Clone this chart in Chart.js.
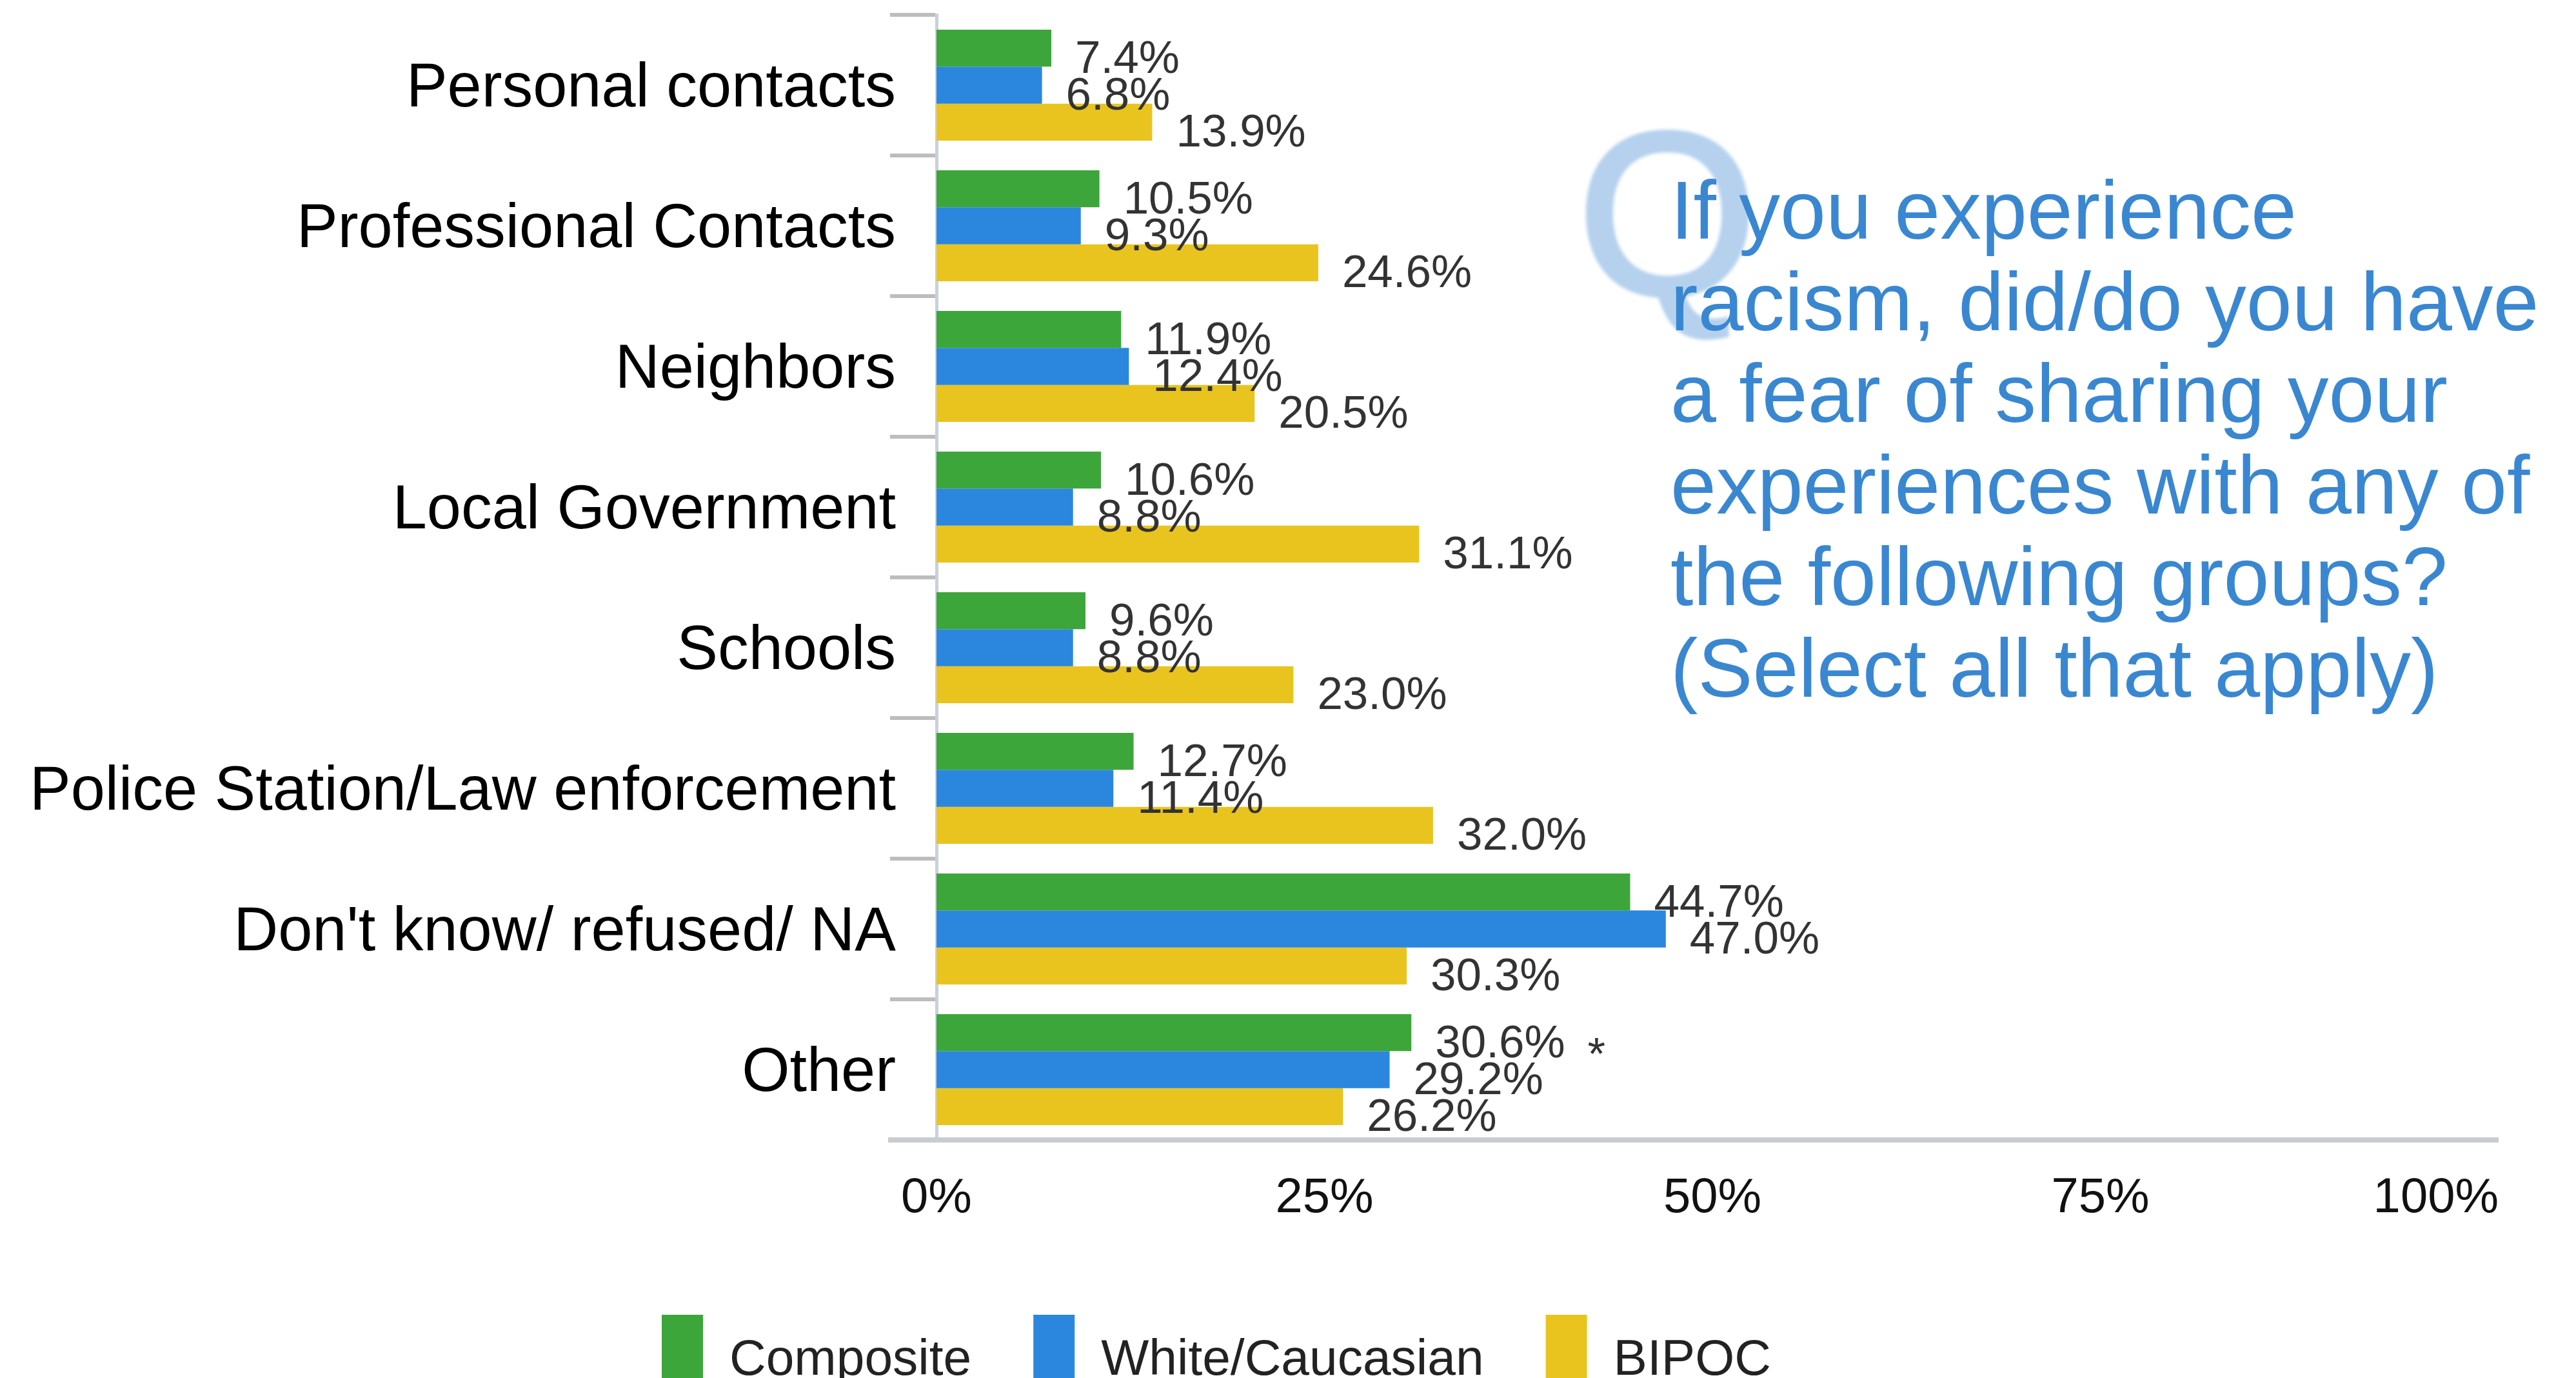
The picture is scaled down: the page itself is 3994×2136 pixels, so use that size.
<!DOCTYPE html>
<html>
<head>
<meta charset="utf-8">
<title>Fear of sharing experiences of racism</title>
<script src="https://cdn.jsdelivr.net/npm/chart.js@4.4.1/dist/chart.umd.min.js"></script>
<style>
  html, body { margin: 0; padding: 0; background: #ffffff; }
  #wrap { position: relative; width: 3994px; height: 2136px; overflow: hidden; background: #ffffff; }
  #chart { position: absolute; left: 0; top: 0; }
  #qmark {
    position: absolute; left: 2446px; top: 152px;
    font: 358px/1 "Liberation Sans", Arial, sans-serif;
    color: #b5d1ee; -webkit-text-stroke: 8px #b5d1ee;
    filter: blur(2.5px);
  }
  #question {
    position: absolute; left: 2590px; top: 255px;
    font: 127.5px/142px "Liberation Sans", Arial, sans-serif;
    color: #3a87d1; white-space: nowrap;
  }
</style>
</head>
<body>
<div id="wrap">
  <canvas id="chart" width="3994" height="2136"></canvas>
  <div id="qmark">Q</div>
  <div id="question">If you experience<br>racism, did/do you have<br>a fear of sharing your<br>experiences with any of<br>the following groups?<br>(Select all that apply)</div>
</div>
<script>
// Survey groups (y axis)
const categories = [
  'Personal contacts',
  'Professional Contacts',
  'Neighbors',
  'Local Government',
  'Schools',
  'Police Station/Law enforcement',
  "Don't know/ refused/ NA",
  'Other'
];

// Series names and percentages
const seriesNames = ['Composite', 'White/Caucasian', 'BIPOC'];
const composite      = [7.4, 10.5, 11.9, 10.6,  9.6, 12.7, 44.7, 30.6];
const whiteCaucasian = [6.8,  9.3, 12.4,  8.8,  8.8, 11.4, 47.0, 29.2];
const bipoc          = [13.9, 24.6, 20.5, 31.1, 23.0, 32.0, 30.3, 26.2];

// Footnote markers printed after a value
const compositeNotes = ['', '', '', '', '', '', '', '*'];

// Percent axis ticks
const xTickValues = [0, 25, 50, 75, 100];

const FONT = '"Liberation Sans", Arial, sans-serif';
const COLORS = ['#3ca63a', '#2b87de', '#eac41e'];

// Value labels to the right of each bar
const valueLabels = {
  id: 'valueLabels',
  afterDatasetsDraw(chart) {
    const ctx = chart.ctx;
    ctx.save();
    ctx.font = '71px ' + FONT;
    ctx.fillStyle = '#333333';
    ctx.textAlign = 'left';
    ctx.textBaseline = 'alphabetic';
    chart.data.datasets.forEach((ds, i) => {
      const meta = chart.getDatasetMeta(i);
      meta.data.forEach((bar, j) => {
        const txt = ds.data[j].toFixed(1) + '%';
        const x = bar.x + 37;
        const y = bar.y + 38;
        ctx.fillText(txt, x, y);
        const note = ds.notes ? ds.notes[j] : '';
        if (note) {
          const w = ctx.measureText(txt).width;
          ctx.fillText(note, x + w + 35, y + 19);
        }
      });
    });
    ctx.restore();
  }
};

// Base line, percent tick labels and legend
const axisExtras = {
  id: 'axisExtras',
  afterDraw(chart) {
    const { ctx, chartArea } = chart;
    const xs = chart.scales.x;
    const axisStart = chartArea.left - 75;
    const axisEnd = chartArea.right + 16;
    ctx.save();

    ctx.strokeStyle = '#c8ccd2';
    ctx.lineWidth = 8;
    ctx.beginPath();
    ctx.moveTo(axisStart, chartArea.bottom);
    ctx.lineTo(axisEnd, chartArea.bottom);
    ctx.stroke();

    ctx.font = '76px ' + FONT;
    ctx.fillStyle = '#111111';
    ctx.textBaseline = 'alphabetic';
    const tickY = chartArea.bottom + 112;
    xTickValues.forEach(v => {
      const t = v + '%';
      const px = xs.getPixelForValue(v);
      const w = ctx.measureText(t).width;
      if (px + w / 2 > axisEnd) {
        ctx.textAlign = 'right';
        ctx.fillText(t, axisEnd, tickY);
      } else {
        ctx.textAlign = 'center';
        ctx.fillText(t, px, tickY);
      }
    });

    // legend row
    ctx.font = '78.5px ' + FONT;
    ctx.textAlign = 'left';
    let lx = 1026;
    const boxTop = 2038, boxW = 64, boxH = 98, textBase = 2131;
    chart.data.datasets.forEach(ds => {
      ctx.fillStyle = ds.backgroundColor;
      ctx.fillRect(lx, boxTop, boxW, boxH);
      lx += boxW + 41;
      ctx.fillStyle = '#222222';
      ctx.fillText(ds.label, lx, textBase);
      lx += ctx.measureText(ds.label).width + 96;
    });
    ctx.restore();
  }
};

Chart.defaults.font.family = FONT;

function build() {
  new Chart(document.getElementById('chart'), {
    type: 'bar',
    data: {
      labels: categories,
      datasets: [
        { label: seriesNames[0], data: composite, notes: compositeNotes, backgroundColor: COLORS[0] },
        { label: seriesNames[1], data: whiteCaucasian, backgroundColor: COLORS[1] },
        { label: seriesNames[2], data: bipoc, backgroundColor: COLORS[2] }
      ]
    },
    options: {
      indexAxis: 'y',
      responsive: false,
      animation: false,
      devicePixelRatio: 1,
      datasets: { bar: { barPercentage: 1.0, categoryPercentage: 0.79, borderWidth: 0 } },
      layout: { padding: { top: 23, right: 136, left: 0, bottom: 0 } },
      plugins: { legend: { display: false }, tooltip: { enabled: false }, title: { display: false } },
      scales: {
        x: {
          type: 'linear',
          min: 0,
          max: 100,
          grid: { display: false },
          border: { display: false },
          ticks: { display: false },
          afterFit(scale) {
            scale.height = 369;
            scale.paddingLeft = 0;
            scale.paddingRight = 0;
          }
        },
        y: {
          type: 'category',
          grid: {
            drawOnChartArea: false,
            drawTicks: true,
            tickLength: 72,
            color: '#bdbdbd',
            lineWidth: 6,
            offset: true
          },
          border: { display: true, color: '#c8d1de', width: 5 },
          ticks: {
            autoSkip: false,
            color: '#000000',
            padding: -9,
            labelOffset: 7,
            font: { size: 95.5, family: FONT }
          },
          afterFit(scale) {
            scale.width = 1452;
            scale.paddingTop = 0;
            scale.paddingBottom = 0;
          }
        }
      }
    },
    plugins: [valueLabels, axisExtras]
  });
}

if (document.fonts && document.fonts.load) {
  Promise.all([
    document.fonts.load('71px "Liberation Sans"'),
    document.fonts.load('358px "Liberation Sans"')
  ]).then(build, build);
} else {
  build();
}
</script>
</body>
</html>
